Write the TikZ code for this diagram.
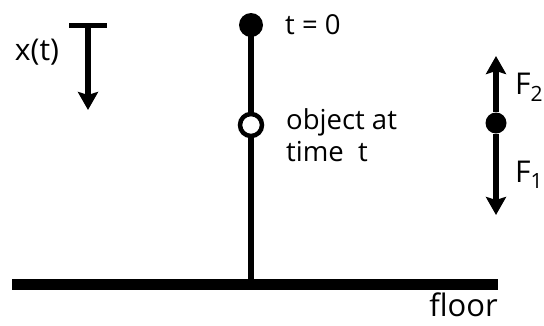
\documentclass[tikz,border=0pt]{standalone}
\usepackage{fontspec}
\setmainfont{Open Sans}
\usetikzlibrary{arrows.meta}
\tikzset{
  lbl/.style={inner sep=0pt, font=\fontsize{27.5}{32}\selectfont, align=left},
  bigl/.style={inner sep=0pt, font=\fontsize{31}{33}\selectfont},
  thin line/.style={line width=5.5pt},
  arr/.style={line width=5.5pt, -{Stealth[length=18pt,width=20pt,inset=3pt]}},
  fulldot/.style={circle, fill=black, minimum size=24pt, inner sep=0pt},
  emptydot/.style={circle, draw=black, line width=4.5pt, fill=white, minimum size=22pt, inner sep=0pt},
}
\begin{document}
\begin{tikzpicture}[x=1pt,y=-1pt]
\useasboundingbox (0,0) rectangle (544,325);
% floor
\coordinate (fl) at (12,284);
\coordinate (fr) at (498,284);
\coordinate (base) at (251,284);
\coordinate (top) at (251,25);
\draw[line width=11pt] (fl) -- (fr);
\node[bigl, anchor=base east] (floorlbl) at (498,316) {floor};
% vertical track
\draw[thin line] (top) -- (base);
\node[fulldot] (t0) at (top) {};
\node[emptydot] (obj) at (251,125) {};
\node[lbl, anchor=west] (t0lbl) at (285,25) {t = 0};
\node[lbl, anchor=base west] (objlbl) at (286,161) {object at\\time\ \ t};
% x(t)
\coordinate (bl) at (69,25);
\coordinate (br) at (107,25);
\coordinate (bm) at (88,25);
\coordinate (btip) at (88,110);
\draw[line width=5pt] (bl) -- (br);
\draw[arr] (bm) -- (btip);
\node[lbl, font=\fontsize{30}{32}\selectfont] (xt) at (37,52) {x(t)};
% forces
\node[fulldot, minimum size=21pt] (m) at (496,123) {};
\coordinate (up) at (496,56);
\coordinate (dn) at (496,215);
\draw[arr] (m) -- (up);
\draw[arr] (m) -- (dn);
\node[lbl, font=\fontsize{30}{32}\selectfont, anchor=west] (f2) at (515,87) {F\textsubscript{2}};
\node[lbl, font=\fontsize{30}{32}\selectfont, anchor=west] (f1) at (515,175) {F\textsubscript{1}};
\end{tikzpicture}
\end{document}
